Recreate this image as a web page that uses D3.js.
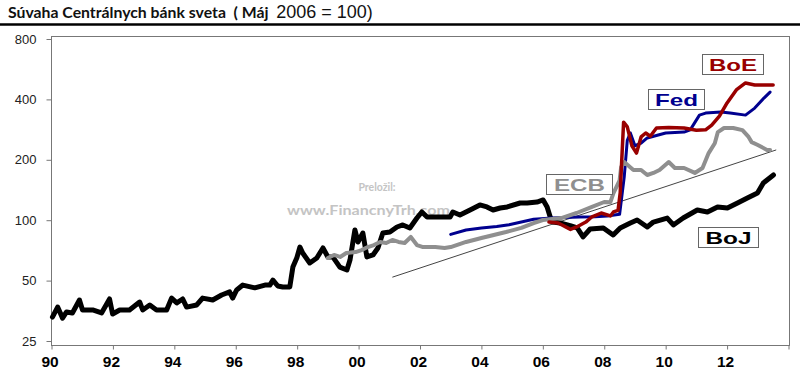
<!DOCTYPE html>
<html>
<head>
<meta charset="utf-8">
<script src="https://cdn.jsdelivr.net/npm/d3@7"></script>
<style>
  body { margin: 0; background: #fff; }
  svg { display: block; }
</style>
</head>
<body>
<div id="chart"></div>
<script>
// data (year as decimal, index May 2006 = 100)
var bojDates = [1990.03, 1990.2, 1990.36, 1990.49, 1990.68, 1990.91, 1991.01, 1991.34, 1991.63, 1991.89, 1991.99,
  1992.22, 1992.54, 1992.87, 1992.97, 1993.2, 1993.42, 1993.75, 1993.91, 1994.08, 1994.27, 1994.4, 1994.73, 1994.92,
  1995.25, 1995.54, 1995.8, 1995.9, 1996.03, 1996.23, 1996.62, 1996.95, 1997.11, 1997.21, 1997.37, 1997.53, 1997.76,
  1997.86, 1997.99, 1998.09, 1998.18, 1998.41, 1998.64, 1998.84, 1999.0, 1999.16, 1999.39, 1999.62, 1999.72, 1999.88,
  1999.98, 2000.14, 2000.27, 2000.47, 2000.63, 2000.79, 2001.02, 2001.25, 2001.44, 2001.67, 2001.9, 2002.06, 2002.23,
  2002.39, 2002.65, 2002.98, 2003.07, 2003.3, 2003.63, 2003.95, 2004.18, 2004.38, 2004.61, 2004.84, 2005.26, 2005.49,
  2005.81, 2006.01, 2006.14, 2006.24, 2006.33, 2006.56, 2006.89, 2007.12, 2007.31, 2007.54, 2007.97, 2008.29, 2008.52,
  2008.85, 2009.07, 2009.4, 2009.6, 2010.05, 2010.25, 2010.57, 2011.03, 2011.36, 2011.69, 2012.01, 2012.34, 2012.66,
  2012.99, 2013.18, 2013.51];
var bojValues = [32.9, 36.9, 32.5, 34.9, 34.5, 40.0, 35.7, 35.7, 34.5, 40.5, 34.1,
  35.7, 35.7, 39.1, 35.7, 37.8, 35.7, 35.7, 40.9, 38.7, 40.5, 36.9, 37.8, 40.9,
  40.0, 42.4, 43.9, 40.9, 44.9, 47.5, 46.0, 47.5, 47.5, 50.3, 47.0, 46.5, 46.5,
  58.4, 65.0, 73.5, 68.6, 61.2, 64.8, 72.7, 65.6, 65.6, 58.4, 56.5, 63.3, 89.4,
  77.9, 86.3, 65.6, 67.1, 72.7, 86.3, 87.3, 92.5, 94.7, 91.5, 102.5, 109.9, 103.7,
  103.7, 103.7, 103.7, 109.9, 106.1, 112.4, 119.1, 116.4, 112.4, 115.0, 116.4, 121.8, 121.8,
  123.2, 126.1, 116.4, 103.7, 98.0, 96.8, 94.0, 91.5, 82.5, 90.4, 91.5, 84.4, 91.5,
  96.8, 100.2, 92.5, 97.9, 102.5, 94.7, 102.5, 112.4, 109.9, 116.4, 115.0, 121.8, 129.0,
  136.6, 153.3, 168.0];

var ecbDates = [1999.0, 1999.2, 1999.4, 1999.6, 1999.9, 2000.1, 2000.3, 2000.5, 2000.7, 2000.9, 2001.1, 2001.3,
  2001.5, 2001.7, 2001.9, 2002.1, 2002.5, 2002.8, 2003.0, 2003.5, 2004.0, 2004.4, 2004.8, 2005.3, 2005.7, 2006.0,
  2006.6, 2007.1, 2007.6, 2008.0, 2008.2, 2008.3, 2008.5, 2008.55, 2008.65, 2008.95, 2009.2, 2009.4, 2009.6, 2009.8,
  2010.1, 2010.3, 2010.6, 2010.95, 2011.2, 2011.4, 2011.6, 2011.7, 2011.9, 2012.2, 2012.5, 2012.7, 2012.8, 2013.0,
  2013.3, 2013.4];
var ecbValues = [64.8, 67.1, 65.6, 68.6, 69.4, 71.0, 73.5, 75.2, 77.9, 77.0, 79.7, 77.9,
  77.0, 82.5, 75.2, 73.5, 73.5, 72.7, 73.5, 77.9, 81.5, 84.4, 87.3, 91.5, 96.8, 100.2,
  102.5, 108.6, 116.4, 123.2, 123.0, 136.6, 158.0, 184.0, 195.0, 178.0, 178.0, 168.0, 172.0, 178.0,
  195.0, 182.0, 182.0, 172.0, 182.0, 216.0, 242.0, 275.0, 288.0, 288.0, 281.0, 260.0, 245.0, 237.0,
  224.0, 224.0];

var fedDates = [2003.0, 2003.5, 2004.0, 2004.5, 2004.9, 2005.3, 2005.7, 2006.3, 2006.7, 2007.2, 2007.7, 2008.1,
  2008.5, 2008.65, 2008.75, 2008.85, 2009.0, 2009.2, 2009.4, 2010.0, 2010.6, 2010.8, 2011.1, 2011.3, 2011.8,
  2012.1, 2012.6, 2012.9, 2013.2, 2013.4];
var fedValues = [85, 89.4, 91.5, 93, 95, 97.9, 101, 102.5, 103, 103.7, 104, 105,
  107, 164, 250, 272, 235, 242, 257, 272, 275, 282, 334, 342, 346,
  342, 334, 362, 406, 435];

var boeDates = [2006.2, 2006.5, 2006.9, 2007.1, 2007.4, 2007.6, 2007.9, 2008.2, 2008.3, 2008.45, 2008.52, 2008.57,
  2008.63, 2008.75, 2008.9, 2009.05, 2009.2, 2009.35, 2009.5, 2009.7, 2010.1, 2010.6, 2011.0, 2011.3, 2011.5,
  2011.75, 2012.0, 2012.3, 2012.6, 2012.9, 2013.5];
var boeValues = [97.9, 96.8, 90, 92.5, 97.9, 104, 108.6, 105, 109.9, 112, 137, 200,
  308, 292, 235, 216, 260, 272, 262, 288, 290, 288, 281, 282, 298,
  330, 384, 446, 483, 472, 472];

var trendDates = [2001.1, 2013.6];
var trendValues = [52, 224];

var yTicks = [25, 50, 100, 200, 400, 800];
var xTicks = [1990, 1992, 1994, 1996, 1998, 2000, 2002, 2004, 2006, 2008, 2010, 2012, 2014];
var xTickLabels = ["90", "92", "94", "96", "98", "00", "02", "04", "06", "08", "10", "12", ""];

var width = 800, height = 376;
var plot = {left: 51.5, right: 789.5, top: 36.5, bottom: 345.5};

var svg = d3.select("#chart").append("svg")
    .attr("width", width)
    .attr("height", height);

// title
var title = svg.append("text")
    .attr("x", 8)
    .attr("y", 18)
    .style("white-space", "pre");
title.append("tspan")
    .attr("font-family", "Lato, 'Open Sans', sans-serif")
    .attr("font-weight", "bold")
    .attr("font-size", "15.8px")
    .attr("fill", "#111")
    .text("Súvaha Centrálnych bánk sveta  ( Máj  ");
title.append("tspan")
    .attr("font-family", "'Liberation Sans', Arial, sans-serif")
    .attr("font-size", "18px")
    .attr("fill", "#111")
    .text("2006 = 100)");

svg.append("line")
    .attr("x1", 0).attr("x2", width)
    .attr("y1", 24.5).attr("y2", 24.5)
    .attr("stroke", "#000")
    .attr("stroke-width", 2.5);

// scales
var x = d3.scaleLinear()
    .domain([1990, 2014])
    .range([plot.left, plot.right - 1]);

var y = d3.scaleLog()
    .base(2)
    .domain([25, 800])
    .range([341, 39]);

// frame
svg.append("rect")
    .attr("x", plot.left)
    .attr("y", plot.top)
    .attr("width", plot.right - plot.left)
    .attr("height", plot.bottom - plot.top)
    .attr("fill", "none")
    .attr("stroke", "#777")
    .attr("stroke-width", 1);

// y axis
var yAxis = svg.append("g")
    .attr("transform", "translate(" + plot.left + ",0)")
    .call(d3.axisLeft(y)
        .tickValues(yTicks)
        .tickFormat(d3.format("d"))
        .tickSize(5)
        .tickPadding(10));
yAxis.select(".domain").remove();
yAxis.selectAll("line").attr("stroke", "#777");
yAxis.selectAll("text")
    .attr("font-family", "'Liberation Sans', Arial, sans-serif")
    .attr("font-size", "13px")
    .attr("fill", "#222");

// x axis
var xAxis = svg.append("g")
    .attr("transform", "translate(0," + plot.bottom + ")")
    .call(d3.axisBottom(x)
        .tickValues(xTicks)
        .tickFormat(function (d, i) { return xTickLabels[i]; })
        .tickSize(4)
        .tickPadding(6));
xAxis.select(".domain").remove();
xAxis.selectAll("line").attr("stroke", "#777");
xAxis.selectAll("text")
    .attr("dx", "-2")
    .attr("font-family", "'Liberation Sans', Arial, sans-serif")
    .attr("font-weight", "bold")
    .attr("font-size", "15.5px")
    .attr("fill", "#000");

// watermark (behind the lines)
svg.append("text")
    .attr("x", 377).attr("y", 191)
    .attr("text-anchor", "middle")
    .attr("font-family", "Lato, sans-serif")
    .attr("font-weight", "bold")
    .attr("font-size", "10.5px")
    .attr("fill", "#c4c4c4")
    .text("Preložil:");
svg.append("text")
    .attr("x", 287).attr("y", 215)
    .attr("textLength", 163)
    .attr("lengthAdjust", "spacingAndGlyphs")
    .attr("font-family", "Lato, sans-serif")
    .attr("font-weight", "bold")
    .attr("font-size", "14px")
    .attr("fill", "#c4c4c4")
    .text("www.FinancnyTrh.com");

// trend line
svg.append("path")
    .datum(d3.zip(trendDates, trendValues))
    .attr("fill", "none")
    .attr("stroke", "#444")
    .attr("stroke-width", 1)
    .attr("d", d3.line()
        .x(function (d) { return x(d[0]); })
        .y(function (d) { return y(d[1]); }));

var series = [
    {name: "BoJ", dates: bojDates, values: bojValues, color: "#000000", width: 5},
    {name: "Fed", dates: fedDates, values: fedValues, color: "#00008f", width: 3},
    {name: "ECB", dates: ecbDates, values: ecbValues, color: "#8f8f8f", width: 4},
    {name: "BoE", dates: boeDates, values: boeValues, color: "#990000", width: 3.5}
];

var line = d3.line()
    .x(function (d) { return x(d[0]); })
    .y(function (d) { return y(d[1]); });

svg.append("g")
    .selectAll("path")
    .data(series)
    .enter()
    .append("path")
    .attr("fill", "none")
    .attr("stroke", function (d) { return d.color; })
    .attr("stroke-width", function (d) { return d.width; })
    .attr("stroke-linejoin", "round")
    .attr("stroke-linecap", "round")
    .attr("d", function (d) { return line(d3.zip(d.dates, d.values)); });

// labels in boxes
var labels = [
    {name: "BoE", color: "#990000", box: [702, 54, 61, 20], textW: 48},
    {name: "Fed", color: "#00008f", box: [648, 89, 56, 20], textW: 43},
    {name: "ECB", color: "#8f8f8f", box: [546, 174, 66, 20], textW: 51},
    {name: "BoJ", color: "#000000", box: [698, 227, 60, 20], textW: 46}
];

var lg = svg.append("g")
    .selectAll("g")
    .data(labels)
    .enter()
    .append("g");

lg.append("rect")
    .attr("x", function (d) { return d.box[0] + 0.5; })
    .attr("y", function (d) { return d.box[1] + 0.5; })
    .attr("width", function (d) { return d.box[2]; })
    .attr("height", function (d) { return d.box[3]; })
    .attr("fill", "#fff")
    .attr("stroke", "#666")
    .attr("stroke-width", 1);

lg.append("text")
    .attr("x", function (d) { return d.box[0] + (d.box[2] - d.textW) / 2 + 0.5; })
    .attr("y", function (d) { return d.box[1] + d.box[3] / 2 + 6.5; })
    .attr("textLength", function (d) { return d.textW; })
    .attr("lengthAdjust", "spacingAndGlyphs")
    .attr("font-family", "'Liberation Sans', Arial, sans-serif")
    .attr("font-weight", "bold")
    .attr("font-size", "17px")
    .attr("fill", function (d) { return d.color; })
    .text(function (d) { return d.name; });
</script>
</body>
</html>
